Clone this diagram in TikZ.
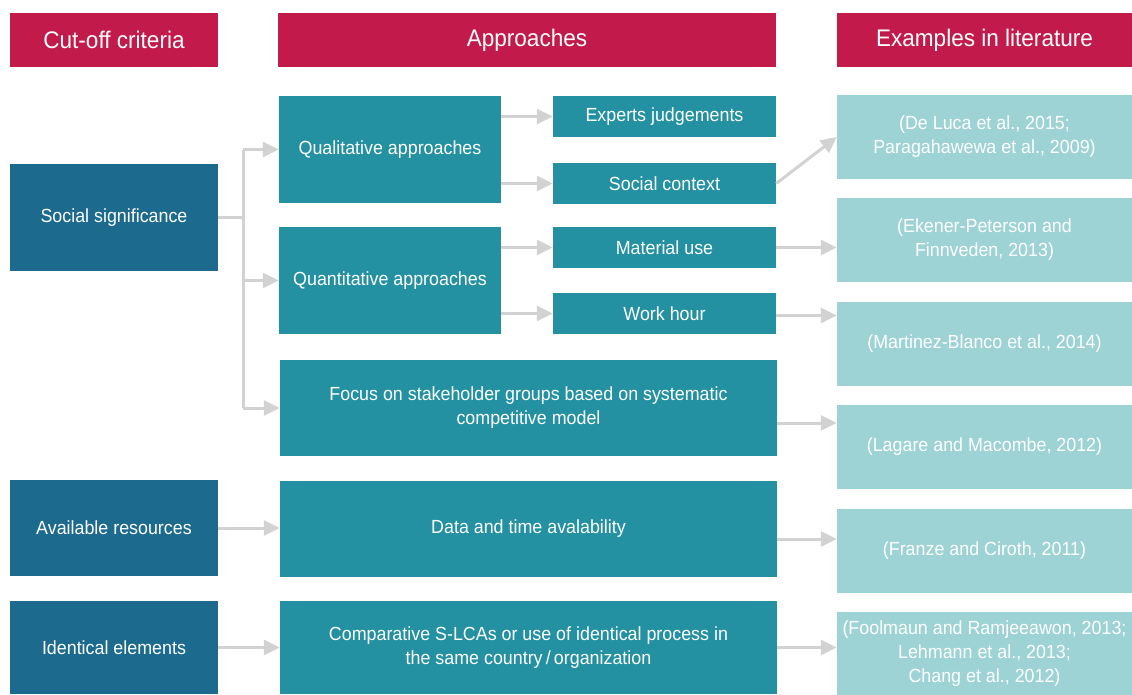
\documentclass[tikz,border=0pt]{standalone}
\usepackage{fontspec}
\setmainfont[FakeStretch=0.94]{Liberation Sans}
\usetikzlibrary{arrows.meta}
\definecolor{crimson}{HTML}{C21A4B}
\definecolor{deepblue}{HTML}{1C6A8E}
\definecolor{tealbox}{HTML}{2391A1}
\definecolor{palebox}{HTML}{9DD3D5}
\definecolor{linkgray}{HTML}{D2D2D2}
\tikzset{
  box/.style={inner sep=0pt, align=center, text=white, font=\fontsize{19}{24}\selectfont},
  head/.style={box, fill=crimson, minimum height=54pt, font=\fontsize{24}{28}\selectfont},
  crit/.style={box, fill=deepblue, minimum width=208pt},
  appr/.style={box, fill=tealbox},
  lit/.style={box, fill=palebox, minimum width=295pt, minimum height=84pt},
  link/.style={draw=linkgray, line width=3pt},
  arrow/.style={link, -{Triangle[length=16pt,width=15pt]}}
}
\begin{document}
\begin{tikzpicture}[x=1pt,y=-1pt]
\useasboundingbox (0,0) rectangle (1132,694);
% headers
\node[head, minimum width=208pt] (cut) at (114,40) {Cut-off criteria};
\node[head, minimum width=498pt] (approach) at (527,40) {Approaches};
\node[head, minimum width=295pt] (examples) at (984.5,40) {Examples in literature};
% cut-off criteria
\node[crit, minimum height=107pt] (social) at (114,217.5) {Social significance};
\node[crit, minimum height=96pt] (avail) at (114,528) {Available resources};
\node[crit, minimum height=93pt] (ident) at (114,647.5) {Identical elements};
% approaches
\node[appr, minimum width=222pt, minimum height=107pt] (qual) at (390,149.5) {Qualitative approaches};
\node[appr, minimum width=222pt, minimum height=107pt] (quant) at (390,280.5) {Quantitative approaches};
\node[appr, minimum width=223pt, minimum height=41pt] (expert) at (664.5,116.5) {Experts judgements};
\node[appr, minimum width=223pt, minimum height=41pt] (context) at (664.5,183.5) {Social context};
\node[appr, minimum width=223pt, minimum height=41pt] (material) at (664.5,247.5) {Material use};
\node[appr, minimum width=223pt, minimum height=41pt] (work) at (664.5,313.5) {Work hour};
\node[appr, minimum width=497pt, minimum height=96pt] (focus) at (528.5,408) {Focus on stakeholder groups based on systematic\\competitive model};
\node[appr, minimum width=497pt, minimum height=96pt] (data) at (528.5,529) {Data and time avalability};
\node[appr, minimum width=497pt, minimum height=93pt] (compare) at (528.5,647.5) {Comparative S-LCAs or use of identical process in\\the same country\,/\,organization};
% literature
\node[lit] (lit1) at (984.5,137) {(De Luca et al., 2015;\\Paragahawewa et al., 2009)};
\node[lit] (lit2) at (984.5,240) {(Ekener-Peterson and\\Finnveden, 2013)};
\node[lit] (lit3) at (984.5,344) {(Martinez-Blanco et al., 2014)};
\node[lit] (lit4) at (984.5,447) {(Lagare and Macombe, 2012)};
\node[lit] (lit5) at (984.5,551) {(Franze and Ciroth, 2011)};
\node[lit] (lit6) at (984.5,654) {(Foolmaun and Ramjeeawon, 2013;\\Lehmann et al., 2013;\\Chang et al., 2012)};
% connectors
\coordinate (fork) at (243,217.5);
\draw[link] (social.east) -- (fork);
\draw[link] (fork |- qual.west) -- (fork |- focus.west);
\draw[arrow] (fork |- qual.west) -- (qual.west);
\draw[arrow] (fork |- quant.west) -- (quant.west);
\draw[arrow] (fork |- focus.west) -- (focus.west);
\draw[arrow] (qual.east |- expert.west) -- (expert.west);
\draw[arrow] (qual.east |- context.west) -- (context.west);
\draw[arrow] (quant.east |- material.west) -- (material.west);
\draw[arrow] (quant.east |- work.west) -- (work.west);
\draw[arrow] (context.east) -- (lit1.west);
\draw[arrow] (material.east) -- (material.east -| lit2.west);
\draw[arrow] ([yshift=-2pt]work.east) -- ([yshift=-2pt]work.east -| lit3.west);
\draw[arrow] ([yshift=-15pt]focus.east) -- ([yshift=-15pt]focus.east -| lit4.west);
\draw[arrow] ([yshift=-10pt]data.east) -- ([yshift=-10pt]data.east -| lit5.west);
\draw[arrow] (compare.east) -- (compare.east -| lit6.west);
\draw[arrow] (avail.east) -- (avail.east -| data.west);
\draw[arrow] (ident.east) -- (ident.east -| compare.west);
\end{tikzpicture}
\end{document}
